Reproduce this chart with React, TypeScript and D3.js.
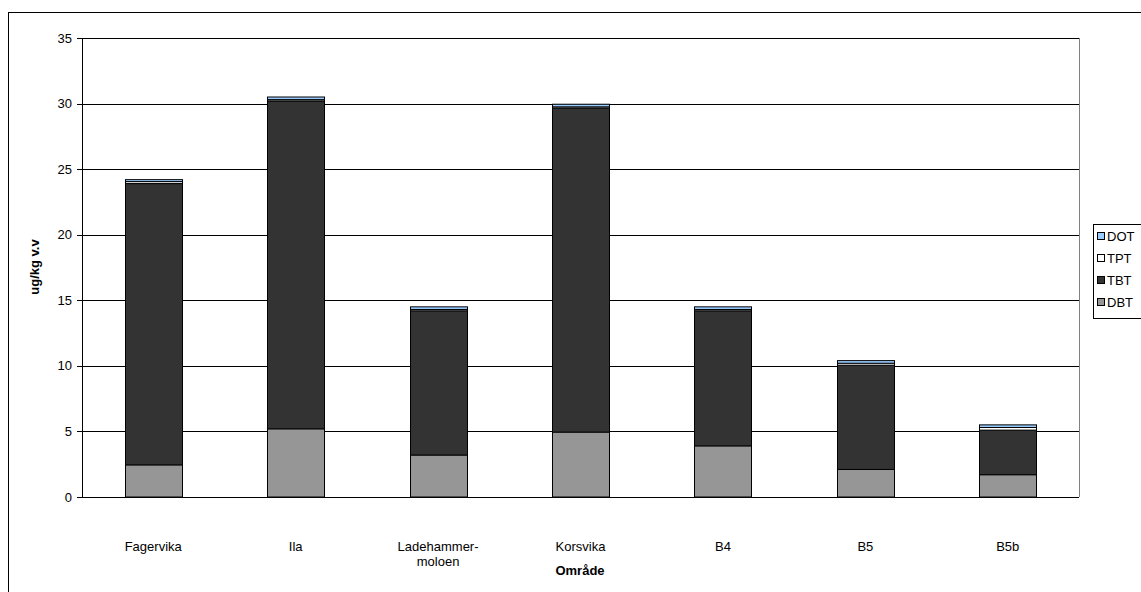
import React from "react";
import * as d3 from "d3";

const categories = ["Fagervika", "Ila", "Ladehammer-\nmoloen", "Korsvika", "B4", "B5", "B5b"];
const seriesNames = ["DBT", "TBT", "TPT", "DOT"];
const DBT = [2.45, 5.2, 3.2, 4.95, 3.9, 2.1, 1.7];
const TBT = [21.45, 25.0, 11.0, 24.7, 10.3, 7.95, 3.4];
const TPT = [0.15, 0.1, 0.1, 0.1, 0.1, 0.15, 0.2];
const DOT = [0.15, 0.2, 0.2, 0.2, 0.2, 0.2, 0.2];
const yTicks = [0, 5, 10, 15, 20, 25, 30, 35];
const colors = ["#969696", "#333333", "#ffffff", "#99ccff"];

export default function App() {
  const W = 1141, H = 592;
  const left = 82, right = 1079, top = 38, bottom = 497;
  const x = d3.scaleBand().domain(categories).range([left, right]).paddingInner(0.6).paddingOuter(0.3);
  const y = d3.scaleLinear().domain([0, 35]).range([bottom, top]);
  const data = categories.map((c, i) => ({ cat: c, DBT: DBT[i], TBT: TBT[i], TPT: TPT[i], DOT: DOT[i] }));
  const stacked = d3.stack<any>().keys(seriesNames)(data);
  const font = "'Liberation Sans', Arial, sans-serif";
  const legendItems = ["DOT", "TPT", "TBT", "DBT"];
  const legendColor: Record<string, string> = { DBT: colors[0], TBT: colors[1], TPT: colors[2], DOT: colors[3] };
  return (
    <svg width={W} height={H} style={{ position: "absolute", left: 0, top: 0 }} fontFamily={font}>
      <rect x={8.5} y={12.5} width={1300} height={700} fill="#fff" stroke="#000" strokeWidth={1} />
      {yTicks.map((t) => (
        <g key={t}>
          {t > 0 && <line x1={left} x2={right} y1={Math.round(y(t)) + 0.5} y2={Math.round(y(t)) + 0.5} stroke="#000" strokeWidth={1} />}
          <line x1={left - 5} x2={left} y1={Math.round(y(t)) + 0.5} y2={Math.round(y(t)) + 0.5} stroke="#000" />
          <text x={left - 10} y={y(t)} dy="0.35em" textAnchor="end" fontSize={13}>{t}</text>
        </g>
      ))}
      <line x1={right + 0.5} x2={right + 0.5} y1={top} y2={bottom} stroke="#808080" />
      {stacked.map((s, si) => (
        <g key={s.key}>
          {s.map((d, i) => (
            <rect key={i} x={Math.round(x(categories[i])!) + 0.5} width={Math.round(x.bandwidth())}
              y={y(d[1])} height={y(d[0]) - y(d[1])} fill={colors[si]} stroke="#000" strokeWidth={1} />
          ))}
        </g>
      ))}
      <line x1={left + 0.5} x2={left + 0.5} y1={top} y2={bottom} stroke="#000" />
      <line x1={left} x2={right} y1={bottom + 0.5} y2={bottom + 0.5} stroke="#000" />
      {categories.map((c) => (
        <text key={c} x={x(c)! + x.bandwidth() / 2} y={551} textAnchor="middle" fontSize={13}>
          {c.split("\n").map((l, j) => (
            <tspan key={j} x={x(c)! + x.bandwidth() / 2} dy={j === 0 ? 0 : 15}>{l}</tspan>
          ))}
        </text>
      ))}
      <text x={580} y={575} textAnchor="middle" fontSize={13} fontWeight="bold">Område</text>
      <text transform="translate(39,267) rotate(-90)" textAnchor="middle" fontSize={13} fontWeight="bold">ug/kg v.v</text>
      <rect x={1093.5} y={224.5} width={100} height={94} fill="#fff" stroke="#000" />
      {legendItems.map((k, i) => (
        <g key={k}>
          <rect x={1097.5} y={232.5 + i * 22} width={7} height={7} fill={legendColor[k]} stroke="#000" />
          <text x={1107} y={236 + i * 22} dy="0.35em" fontSize={13}>{k}</text>
        </g>
      ))}
    </svg>
  );
}
